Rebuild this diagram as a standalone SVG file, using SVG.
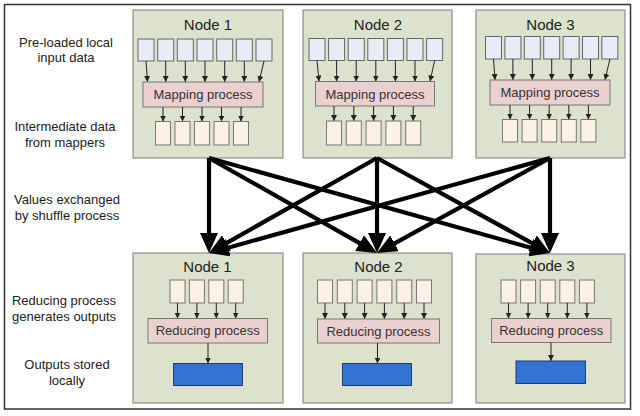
<svg xmlns="http://www.w3.org/2000/svg" width="640" height="416" viewBox="0 0 640 416">
<style>
text{font-family:"Liberation Sans",Arial,sans-serif;fill:#222}
.lbl{font-size:13px;text-anchor:middle}
.ttl{font-size:15px;text-anchor:middle}
.proc{font-size:13px;text-anchor:middle;fill:#333}
.node{fill:#dde2cc;stroke:#7a7a7a;stroke-width:1}
.in{fill:#e8ecf6;stroke:#666;stroke-width:1}
.mid{fill:#fdf0e4;stroke:#777;stroke-width:1}
.map{fill:#ebd0d0;stroke:#777;stroke-width:1}
.out{fill:#3373d3;stroke:#1d3d70;stroke-width:1}
.sa{stroke:#222;stroke-width:1;fill:none;marker-end:url(#sm)}
.big{stroke:#000;stroke-width:4.2;fill:none;marker-end:url(#bg)}
</style>
<defs>
<marker id="sm" markerUnits="userSpaceOnUse" markerWidth="6" markerHeight="6" refX="6" refY="3" orient="auto"><path d="M0,0 L6,3 L0,6 z" fill="#222"/></marker>
<marker id="bg" markerUnits="userSpaceOnUse" markerWidth="20" markerHeight="18" refX="2" refY="9" orient="auto"><path d="M0,0 L20,9 L0,18 z" fill="#000"/></marker>
</defs>
<rect x="4.5" y="4.5" width="626" height="404.5" fill="#fff" stroke="#333" stroke-width="1.5"/>
<g id="labels">
<text class="lbl" x="66" y="46.5">Pre-loaded local</text>
<text class="lbl" x="66" y="62">input data</text>
<text class="lbl" x="65" y="131.3">Intermediate data</text>
<text class="lbl" x="65" y="146.5">from mappers</text>
<text class="lbl" x="67" y="204">Values exchanged</text>
<text class="lbl" x="67" y="219.6">by shuffle process</text>
<text class="lbl" x="64" y="304.6">Reducing process</text>
<text class="lbl" x="64" y="320.6">generates outputs</text>
<text class="lbl" x="67" y="368.6">Outputs stored</text>
<text class="lbl" x="67" y="385.3">locally</text>
</g>
<g id="map1">
<rect class="node" x="133" y="10" width="150" height="148"/>
<text class="ttl" x="208" y="30">Node 1</text>
<rect class="in" x="138" y="39" width="16" height="22"/><rect class="in" x="157.7" y="39" width="16" height="22"/><rect class="in" x="177.3" y="39" width="16" height="22"/><rect class="in" x="197" y="39" width="16" height="22"/><rect class="in" x="216.7" y="39" width="16" height="22"/><rect class="in" x="236.3" y="39" width="16" height="22"/><rect class="in" x="256" y="39" width="16" height="22"/>
<path class="sa" d="M146,61 L147.5,82"/><path class="sa" d="M165.7,61 L165.7,82"/><path class="sa" d="M185.3,61 L185.3,82"/><path class="sa" d="M205,61 L205,82"/><path class="sa" d="M224.7,61 L224.7,82"/><path class="sa" d="M244.3,61 L244.3,82"/><path class="sa" d="M264,61 L259,82"/>
<rect class="map" x="143" y="82" width="120" height="25"/>
<text class="proc" x="203" y="99.3">Mapping process</text>
<path class="sa" d="M163,107 L163,121.5"/><path class="sa" d="M182.5,107 L182.5,121.5"/><path class="sa" d="M202,107 L202,121.5"/><path class="sa" d="M221.5,107 L221.5,121.5"/><path class="sa" d="M241,107 L241,121.5"/>
<rect class="mid" x="155.5" y="121.5" width="15" height="23.5"/><rect class="mid" x="175" y="121.5" width="15" height="23.5"/><rect class="mid" x="194.5" y="121.5" width="15" height="23.5"/><rect class="mid" x="214" y="121.5" width="15" height="23.5"/><rect class="mid" x="233.5" y="121.5" width="15" height="23.5"/>
</g>
<g id="map2">
<rect class="node" x="303" y="10" width="149" height="148"/>
<text class="ttl" x="378" y="30">Node 2</text>
<rect class="in" x="309" y="38.5" width="16" height="22"/><rect class="in" x="328.6" y="38.5" width="16" height="22"/><rect class="in" x="348.2" y="38.5" width="16" height="22"/><rect class="in" x="367.8" y="38.5" width="16" height="22"/><rect class="in" x="387.4" y="38.5" width="16" height="22"/><rect class="in" x="407" y="38.5" width="16" height="22"/><rect class="in" x="426.6" y="38.5" width="16" height="22"/>
<path class="sa" d="M317,60.5 L319,81.5"/><path class="sa" d="M336.6,60.5 L336.6,81.5"/><path class="sa" d="M356.2,60.5 L356.2,81.5"/><path class="sa" d="M375.8,60.5 L375.8,81.5"/><path class="sa" d="M395.4,60.5 L395.4,81.5"/><path class="sa" d="M415,60.5 L415,81.5"/><path class="sa" d="M434.6,60.5 L430,81.5"/>
<rect class="map" x="315.5" y="81.5" width="119" height="24.5"/>
<text class="proc" x="375" y="98.5">Mapping process</text>
<path class="sa" d="M334,106 L334,121"/><path class="sa" d="M353.8,106 L353.8,121"/><path class="sa" d="M373.6,106 L373.6,121"/><path class="sa" d="M393.4,106 L393.4,121"/><path class="sa" d="M413.2,106 L413.2,121"/>
<rect class="mid" x="326.5" y="121" width="15" height="24"/><rect class="mid" x="346.3" y="121" width="15" height="24"/><rect class="mid" x="366.1" y="121" width="15" height="24"/><rect class="mid" x="385.9" y="121" width="15" height="24"/><rect class="mid" x="405.7" y="121" width="15" height="24"/>
</g>
<g id="map3">
<rect class="node" x="476" y="10" width="149" height="148"/>
<text class="ttl" x="550.5" y="29.5">Node 3</text>
<rect class="in" x="485.5" y="36.5" width="16" height="22.5"/><rect class="in" x="504.9" y="36.5" width="16" height="22.5"/><rect class="in" x="524.3" y="36.5" width="16" height="22.5"/><rect class="in" x="543.7" y="36.5" width="16" height="22.5"/><rect class="in" x="563.1" y="36.5" width="16" height="22.5"/><rect class="in" x="582.5" y="36.5" width="16" height="22.5"/><rect class="in" x="601.9" y="36.5" width="16" height="22.5"/>
<path class="sa" d="M493.5,59 L495,80"/><path class="sa" d="M512.9,59 L512.9,80"/><path class="sa" d="M532.3,59 L532.3,80"/><path class="sa" d="M551.7,59 L551.7,80"/><path class="sa" d="M571.1,59 L571.1,80"/><path class="sa" d="M590.5,59 L590.5,80"/><path class="sa" d="M609.9,59 L605,80"/>
<rect class="map" x="490" y="80" width="120" height="25"/>
<text class="proc" x="550" y="97">Mapping process</text>
<path class="sa" d="M510,105 L510,119.5"/><path class="sa" d="M529.6,105 L529.6,119.5"/><path class="sa" d="M549.2,105 L549.2,119.5"/><path class="sa" d="M568.8,105 L568.8,119.5"/><path class="sa" d="M588.4,105 L588.4,119.5"/>
<rect class="mid" x="502.5" y="119.5" width="15" height="22.5"/><rect class="mid" x="522.1" y="119.5" width="15" height="22.5"/><rect class="mid" x="541.7" y="119.5" width="15" height="22.5"/><rect class="mid" x="561.3" y="119.5" width="15" height="22.5"/><rect class="mid" x="580.9" y="119.5" width="15" height="22.5"/>
</g>
<g id="red1">
<rect class="node" x="133" y="253" width="150" height="150"/>
<text class="ttl" x="207.5" y="272">Node 1</text>
<rect class="mid" x="170" y="280" width="15" height="23"/><rect class="mid" x="189.4" y="280" width="15" height="23"/><rect class="mid" x="208.8" y="280" width="15" height="23"/><rect class="mid" x="228.2" y="280" width="15" height="23"/>
<path class="sa" d="M177.5,303 L177.5,318.5"/><path class="sa" d="M196.9,303 L196.9,318.5"/><path class="sa" d="M216.3,303 L216.3,318.5"/><path class="sa" d="M235.7,303 L235.7,318.5"/>
<rect class="map" x="148" y="318.5" width="119.5" height="24.5"/>
<text class="proc" x="207.7" y="335.3">Reducing process</text>
<path class="sa" d="M208,343 L208,363.5"/>
<rect class="out" x="173.5" y="363.5" width="69" height="22"/>
</g>
<g id="red2">
<rect class="node" x="303" y="253" width="149" height="150"/>
<text class="ttl" x="378.5" y="272">Node 2</text>
<rect class="mid" x="317.5" y="280" width="15" height="23"/><rect class="mid" x="337.3" y="280" width="15" height="23"/><rect class="mid" x="357.1" y="280" width="15" height="23"/><rect class="mid" x="376.9" y="280" width="15" height="23"/><rect class="mid" x="396.7" y="280" width="15" height="23"/><rect class="mid" x="416.5" y="280" width="15" height="23"/>
<path class="sa" d="M325,303 L325,319"/><path class="sa" d="M344.8,303 L344.8,319"/><path class="sa" d="M364.6,303 L364.6,319"/><path class="sa" d="M384.4,303 L384.4,319"/><path class="sa" d="M404.2,303 L404.2,319"/><path class="sa" d="M424,303 L424,319"/>
<rect class="map" x="317.5" y="319" width="122" height="24"/>
<text class="proc" x="378.5" y="335.6">Reducing process</text>
<path class="sa" d="M377.5,343 L377.5,363.5"/>
<rect class="out" x="342.5" y="363.5" width="69" height="22"/>
</g>
<g id="red3">
<rect class="node" x="476" y="254" width="149" height="149"/>
<text class="ttl" x="550.5" y="271">Node 3</text>
<rect class="mid" x="501" y="280" width="15" height="23"/><rect class="mid" x="520.6" y="280" width="15" height="23"/><rect class="mid" x="540.2" y="280" width="15" height="23"/><rect class="mid" x="559.8" y="280" width="15" height="23"/><rect class="mid" x="579.4" y="280" width="15" height="23"/>
<path class="sa" d="M508.5,303 L508.5,318.5"/><path class="sa" d="M528.1,303 L528.1,318.5"/><path class="sa" d="M547.7,303 L547.7,318.5"/><path class="sa" d="M567.3,303 L567.3,318.5"/><path class="sa" d="M586.9,303 L586.9,318.5"/>
<rect class="map" x="491.5" y="318.5" width="119.5" height="24"/>
<text class="proc" x="551.2" y="335">Reducing process</text>
<path class="sa" d="M551,342.5 L551,361"/>
<rect class="out" x="516" y="361" width="69.5" height="22.5"/>
</g>
<g id="connectors">
<path class="big" d="M209,158 L209,235"/>
<path class="big" d="M209,158 L361.3,244.1"/>
<path class="big" d="M209,158 L532.7,248.2"/>
<path class="big" d="M377,158 L224.7,244.1"/>
<path class="big" d="M377,158 L377,235"/>
<path class="big" d="M377,158 L534.2,244.3"/>
<path class="big" d="M550,158 L226.3,248.2"/>
<path class="big" d="M550,158 L392.8,244.3"/>
<path class="big" d="M550,158 L550,235"/>
</g>
</svg>
